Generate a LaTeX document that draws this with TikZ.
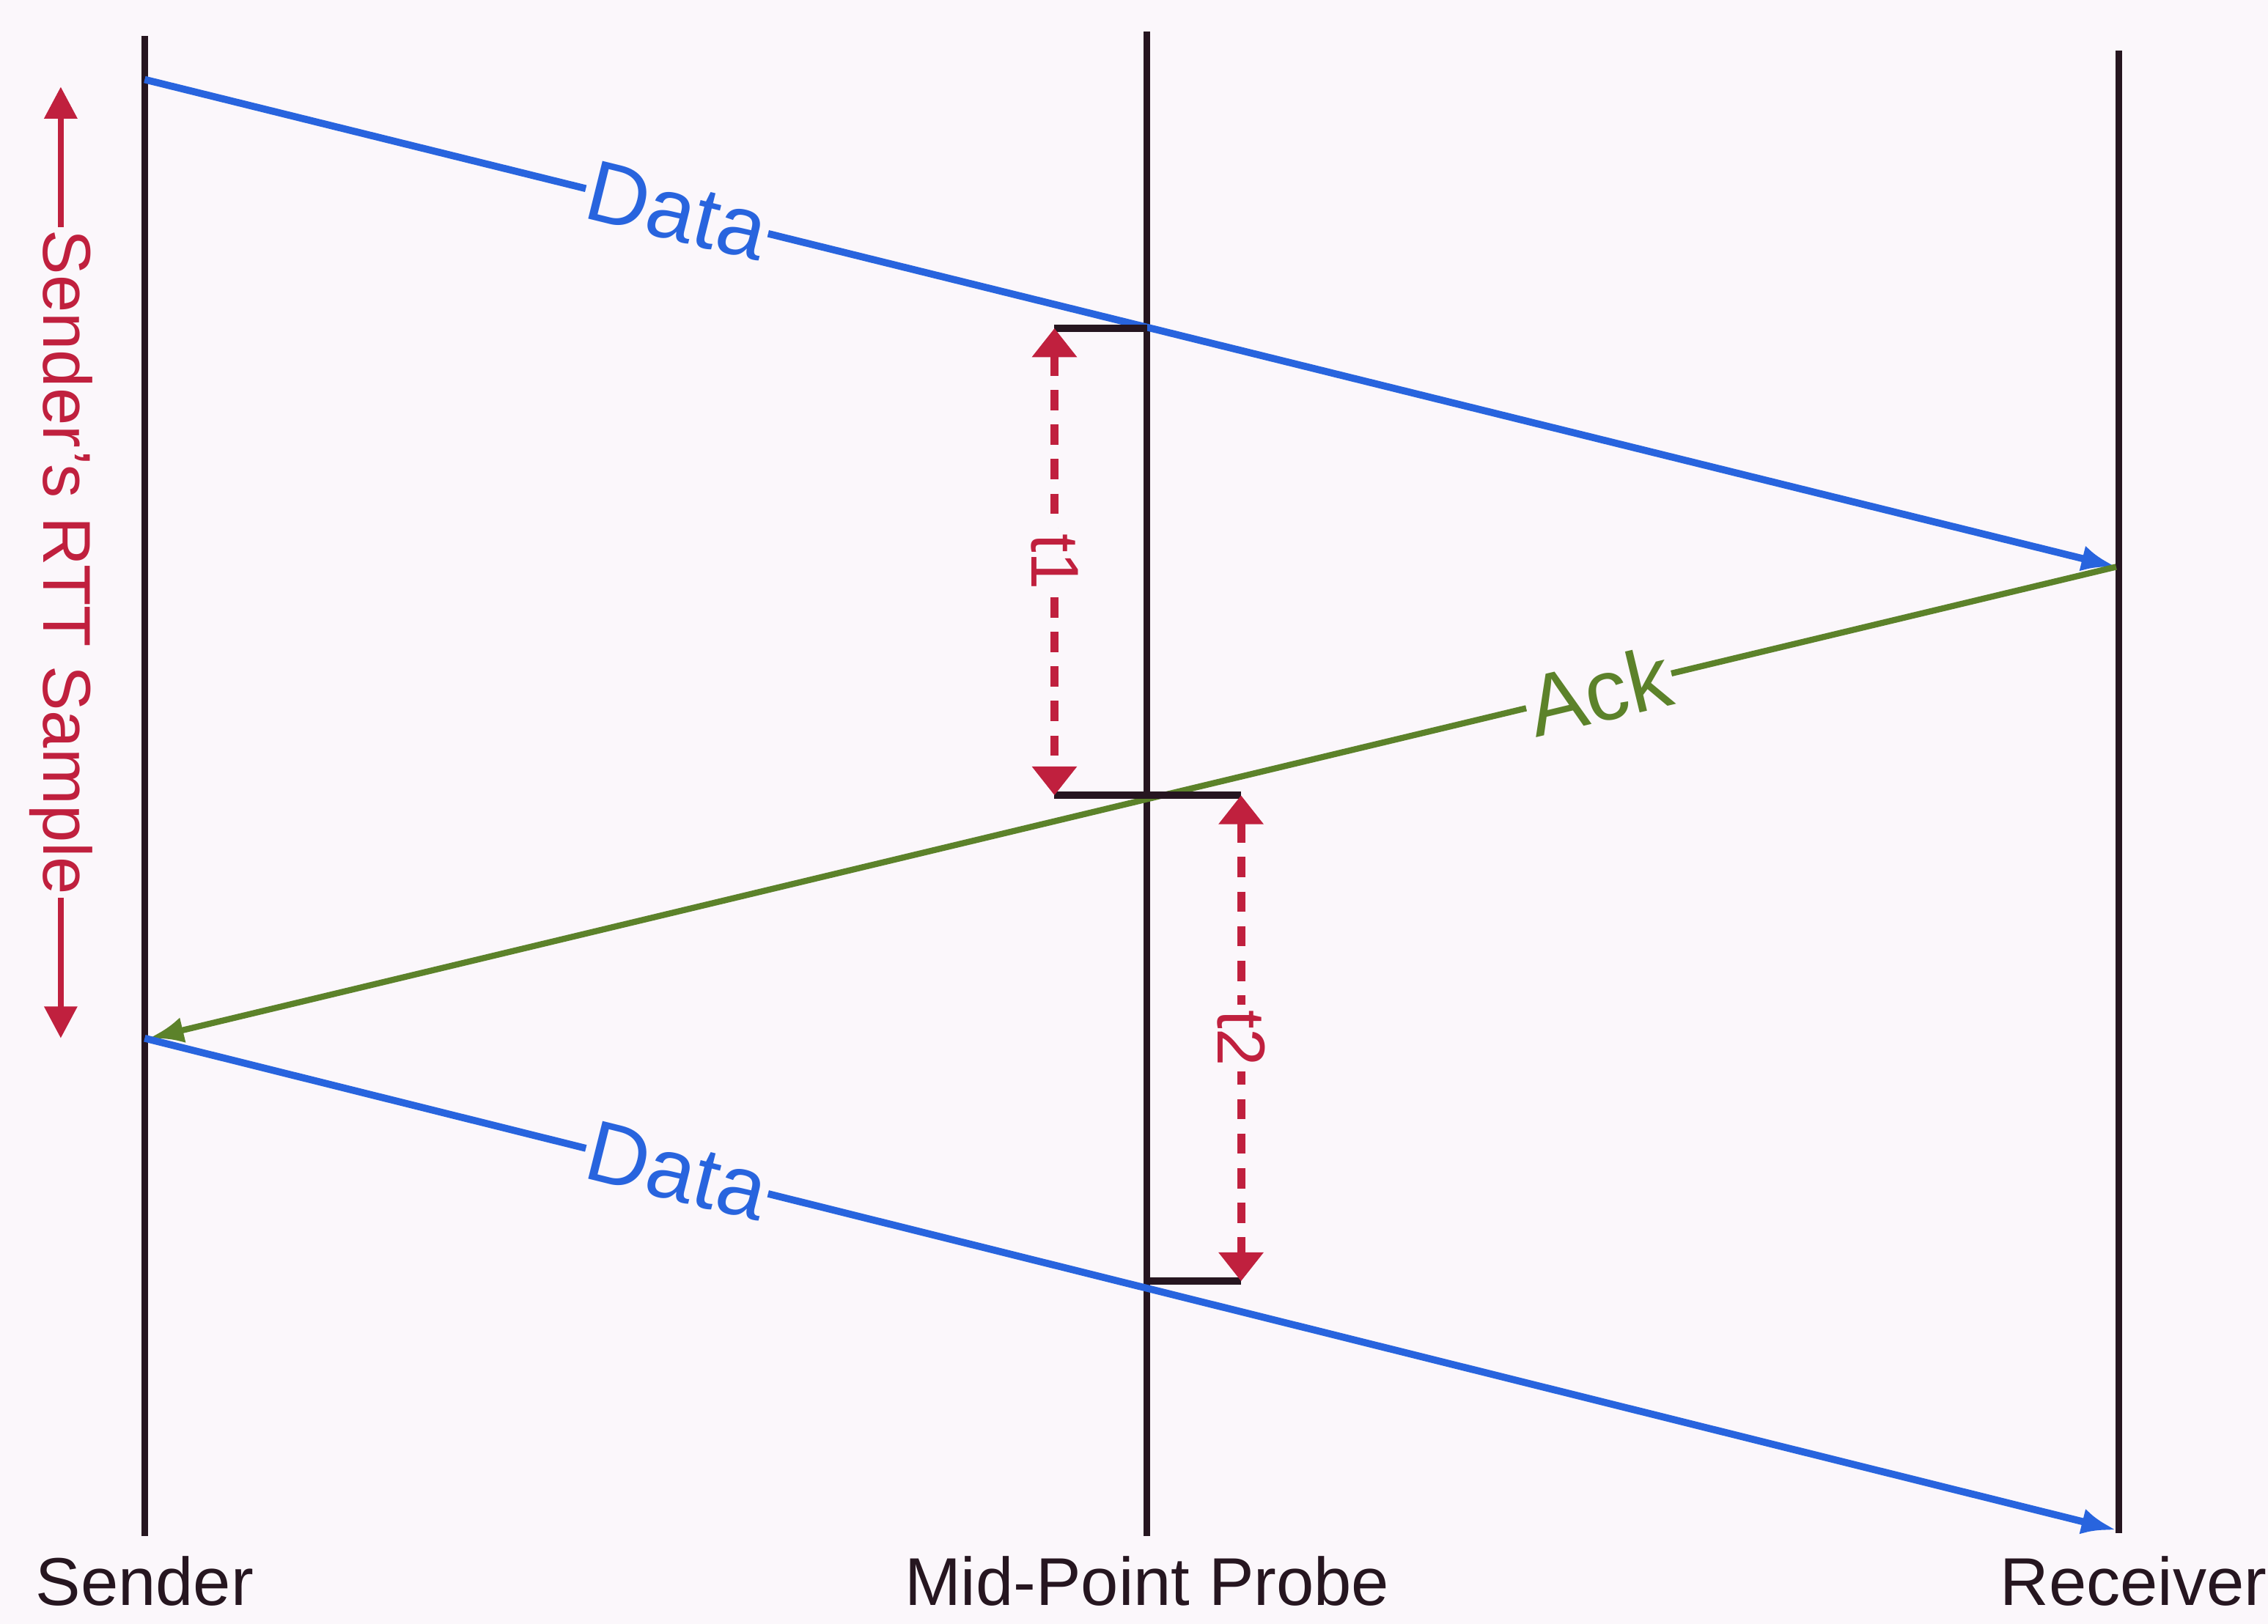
\documentclass[tikz,border=0pt]{standalone}
\usepackage{fontspec}
\setmainfont{Liberation Sans}
\usetikzlibrary{arrows.meta,positioning}
\definecolor{pagebg}{RGB}{251,247,251}
\definecolor{datablue}{RGB}{40,100,222}
\definecolor{ackgreen}{RGB}{92,130,42}
\definecolor{rttred}{RGB}{192,32,62}
\definecolor{hostblack}{RGB}{38,22,32}
\begin{document}
\begin{tikzpicture}[font=\fontsize{13.3}{16}\selectfont,
    host/.style={draw=hostblack, line width=1.3pt},
    msg/.style={line width=1.4pt, -{Latex[length=0.24cm,width=0.18cm]}},
    msglabel/.style={sloped, fill=pagebg, inner sep=0.5pt, font=\fontsize{17}{20}\selectfont},
    gap/.style={draw=rttred, line width=1.6pt, dash pattern=on 4pt off 2.8pt,
      {Triangle[width=0.3cm,length=0.2cm]}-{Triangle[width=0.3cm,length=0.2cm]}},
    gaplabel/.style={text=rttred, fill=pagebg, rotate=-90, inner sep=1pt}]
  \fill[pagebg] (0,0) rectangle (15.68,11.23);
  \useasboundingbox (0,0) rectangle (15.68,11.23);
  % hosts
  \coordinate (snd top) at (1.00,10.98);
  \coordinate (snd bot) at (1.00,0.61);
  \coordinate (mid top) at (7.93,11.01);
  \coordinate (mid bot) at (7.93,0.61);
  \coordinate (rcv top) at (14.65,10.88);
  \coordinate (rcv bot) at (14.65,0.63);
  \draw[host] (snd top) -- (snd bot);
  \draw[host] (mid top) -- (mid bot);
  \draw[host] (rcv top) -- (rcv bot);
  \node[below=0.02cm of snd bot, text=hostblack] (sndname) {Sender};
  \node[below=0.02cm of mid bot, text=hostblack] (midname) {Mid-Point Probe};
  \node[below=0.12cm of rcv bot, xshift=0.1cm, text=hostblack, inner sep=1pt] (rcvname) {Receiver};
  % packets
  \coordinate (d1 start) at (1.00,10.68);
  \coordinate (d1 end) at (14.63,7.31);
  \coordinate (ack end) at (1.03,4.05);
  \coordinate (d2 start) at (1.00,4.05);
  \coordinate (d2 end) at (14.63,0.65);
  \draw[msg, datablue] (d1 start) -- node[msglabel, pos=0.27, text=datablue] (data1) {Data} (d1 end);
  \draw[msg, ackgreen, line width=1.2pt] (d1 end) -- node[msglabel, pos=0.263, text=ackgreen] (ack) {Ack} (ack end);
  \draw[msg, datablue] (d2 start) -- node[msglabel, pos=0.27, text=datablue] (data2) {Data} (d2 end);
  % gaps seen at the probe
  \coordinate (t1 a) at (7.29,8.96);
  \coordinate (t1 b) at (7.29,5.73);
  \coordinate (t2 a) at (8.58,5.73);
  \coordinate (t2 b) at (8.58,2.37);
  \coordinate (p1) at (7.93,8.96);
  \coordinate (p3) at (7.93,2.37);
  \draw[host, line width=1.5pt] (t1 a) -- (p1);
  \draw[host, line width=1.5pt] (t1 b) -- (t2 a);
  \draw[host, line width=1.5pt] (p3) -- (t2 b);
  \draw[gap] (t1 a) -- node[gaplabel] (t1) {t1} (t1 b);
  \draw[gap] (t2 a) -- node[gaplabel] (t2) {t2} (t2 b);
  % rtt sample at the sender
  \coordinate (rtt a) at (0.42,10.63);
  \coordinate (rtt b) at (0.42,4.05);
  \draw[rttred, line width=1.2pt, {Triangle[width=0.22cm,length=0.22cm]}-{Triangle[width=0.22cm,length=0.22cm]}]
    (rtt a) -- node[gaplabel, inner sep=0.5pt] (rtt) {Sender's RTT Sample} (rtt b);
\end{tikzpicture}
\end{document}
